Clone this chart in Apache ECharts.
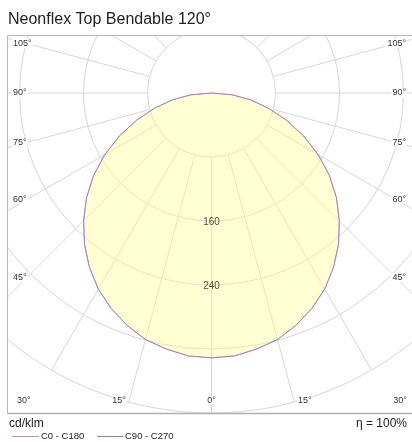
<!DOCTYPE html>
<html><head><meta charset="utf-8">
<script src="https://cdn.jsdelivr.net/npm/echarts@6/dist/echarts.min.js"></script>
<style>html,body{margin:0;padding:0;background:#fff}#chart{width:412px;height:442px}</style>
</head><body><div id="chart"></div>
<script>
// ---- data ----
const chartTitle = 'Neonflex Top Bendable 120°';
const unitLabel = 'cd/klm';
const efficiencyLabel = 'η = 100%';
const seriesNames = ['C0 - C180', 'C90 - C270'];
const gammaAngles = [0,5,10,15,20,25,30,35,40,45,50,55,60,65,70,75,80,85,90,95,100,105,110,115,120,125,130,135,140,145,150,155,160,165,170,175,180];
const c0c180 = [331,330,325,319,309,297,283,266,247,226,204,180,154,127,100,74,50,26,0,0,0,0,0,0,0,0,0,0,0,0,0,0,0,0,0,0,0];
const c90c270 = [331,330,325,319,309,297,283,266,247,226,204,180,154,127,100,74,50,26,0,0,0,0,0,0,0,0,0,0,0,0,0,0,0,0,0,0,0];
const ringTicks = [80,160,240,320,400];
const ringLabelValues = [160,240];
const spokeAngles = [0,15,30,45,60,75,90,105,120,135,150,165,180];
const sideAngleLabels = [105,90,75,60,45];
const bottomAngleLabels = [30,15,0];

// ---- layout ----
const CX = 211.5, CY = 93, RPX = 320, RMAX = 400;
const FL = 7.5, FT = 35.5, FB = 413.5, FR = 412;
const FONT = 'Arial, "Liberation Sans", sans-serif';
const gridColor = '#d6d6d6';
const redColor = '#e58a8a', blueColor = '#8a80e0';

function curveData(vals){
  const left = gammaAngles.map((g,i)=>[vals[i], g]);
  const right = gammaAngles.slice().reverse().map((g)=>{const i=gammaAngles.indexOf(g);return [vals[i], 360-g];});
  return left.concat(right);
}

const series = [];
// spokes (from first ring outwards)
spokeAngles.forEach(a=>{
  [a, 360-a].forEach(ang=>{
    series.push({type:'line', coordinateSystem:'polar', clip:false, silent:true, symbol:'none', z:1,
      lineStyle:{color:gridColor, width:1}, data:[[ringTicks[0], ang],[900, ang]]});
  });
});
// fill
series.push({type:'line', coordinateSystem:'polar', symbol:'none', clip:false, z:3, silent:true,
  lineStyle:{width:0}, areaStyle:{color:'rgba(255,255,140,0.55)', origin:'start'}, data:curveData(c0c180)});
// curves
series.push({name:seriesNames[0], type:'line', coordinateSystem:'polar', symbol:'none', clip:false, z:4,
  lineStyle:{color:redColor, width:1}, data:curveData(c0c180)});
series.push({name:seriesNames[1], type:'line', coordinateSystem:'polar', symbol:'none', clip:false, z:5,
  lineStyle:{color:blueColor, width:1, opacity:0.7}, data:curveData(c90c270)});
// ring labels
series.push({type:'scatter', coordinateSystem:'polar', symbolSize:1, z:6, silent:true,
  itemStyle:{color:'rgba(0,0,0,0)'},
  label:{show:true, position:'inside', offset:[0,1], color:'#1a1a1a', fontSize:10, fontFamily:FONT, formatter:p=>String(p.value[0])},
  data:ringLabelValues.map(v=>[v,0])});

const graphics = [];
// covers to clip to frame
graphics.push({type:'rect', z:100, shape:{x:0,y:0,width:412,height:FT}, style:{fill:'#fff'}});
graphics.push({type:'rect', z:100, shape:{x:0,y:0,width:FL,height:442}, style:{fill:'#fff'}});
graphics.push({type:'rect', z:100, shape:{x:0,y:FB,width:412,height:442-FB}, style:{fill:'#fff'}});
// frame
graphics.push({type:'line', z:101, shape:{x1:FL,y1:FT,x2:FR,y2:FT}, style:{stroke:'#b8b8b8', lineWidth:1}});
graphics.push({type:'line', z:101, shape:{x1:FL,y1:FT,x2:FL,y2:FB}, style:{stroke:'#b8b8b8', lineWidth:1}});
graphics.push({type:'line', z:101, shape:{x1:FL,y1:FB,x2:FR,y2:FB}, style:{stroke:'#b0b0b0', lineWidth:1.5}});
// title
graphics.push({type:'text', z:200, x:8, y:20, style:{text:chartTitle, font:'16px '+FONT, fill:'#222', verticalAlign:'middle'}});
// angle labels
const rad = d=>d*Math.PI/180;
sideAngleLabels.forEach(g=>{
  const y = CY + (CX-27)/Math.tan(rad(g));
  graphics.push({type:'text', z:200, x:12, y:y, style:{text:g+'°', font:'9px '+FONT, fill:'#333', align:'left', verticalAlign:'middle', backgroundColor:'#fff', padding:[0,1]}});
  graphics.push({type:'text', z:200, x:407, y:y, style:{text:g+'°', font:'9px '+FONT, fill:'#333', align:'right', verticalAlign:'middle', backgroundColor:'#fff', padding:[0,1]}});
});
bottomAngleLabels.forEach(g=>{
  const dx = (401-CY)*Math.tan(rad(g));
  if (g===0){
    graphics.push({type:'text', z:200, x:CX, y:401, style:{text:g+'°', font:'9px '+FONT, fill:'#333', align:'center', verticalAlign:'middle', backgroundColor:'#fff', padding:[0,1]}});
  } else {
    graphics.push({type:'text', z:200, x:CX-dx-2, y:401, style:{text:g+'°', font:'9px '+FONT, fill:'#333', align:'right', verticalAlign:'middle', backgroundColor:'#fff', padding:[0,1]}});
    graphics.push({type:'text', z:200, x:CX+dx+3, y:401, style:{text:g+'°', font:'9px '+FONT, fill:'#333', align:'left', verticalAlign:'middle', backgroundColor:'#fff', padding:[0,1]}});
  }
});
// footer
graphics.push({type:'text', z:200, x:9, y:424, style:{text:unitLabel, font:'12px '+FONT, fill:'#222', verticalAlign:'middle'}});
graphics.push({type:'text', z:200, x:407, y:424, style:{text:efficiencyLabel, font:'12px '+FONT, fill:'#222', align:'right', verticalAlign:'middle'}});
graphics.push({type:'line', z:200, shape:{x1:12,y1:436.5,x2:39,y2:436.5}, style:{stroke:redColor, lineWidth:1}});
graphics.push({type:'text', z:200, x:41, y:436.5, style:{text:seriesNames[0], font:'9.5px '+FONT, fill:'#222', verticalAlign:'middle'}});
graphics.push({type:'line', z:200, shape:{x1:97,y1:436.5,x2:123,y2:436.5}, style:{stroke:blueColor, lineWidth:1}});
graphics.push({type:'text', z:200, x:125, y:436.5, style:{text:seriesNames[1], font:'9.5px '+FONT, fill:'#222', verticalAlign:'middle'}});

const chart = echarts.init(document.getElementById('chart'), null, {renderer:'canvas'});
chart.setOption({
  animation:false,
  backgroundColor:'#fff',
  polar:{center:[CX, CY], radius:RPX},
  angleAxis:{type:'value', min:0, max:360, interval:15, startAngle:-90, clockwise:true,
    axisLine:{show:false}, axisTick:{show:false}, axisLabel:{show:false}, splitLine:{show:false}},
  radiusAxis:{type:'value', min:0, max:RMAX, interval:ringTicks[0],
    axisLine:{show:false}, axisTick:{show:false}, axisLabel:{show:false},
    splitLine:{show:true, lineStyle:{color:gridColor, width:1}}},
  series:series,
  graphic:{elements:graphics}
});
</script></body></html>
